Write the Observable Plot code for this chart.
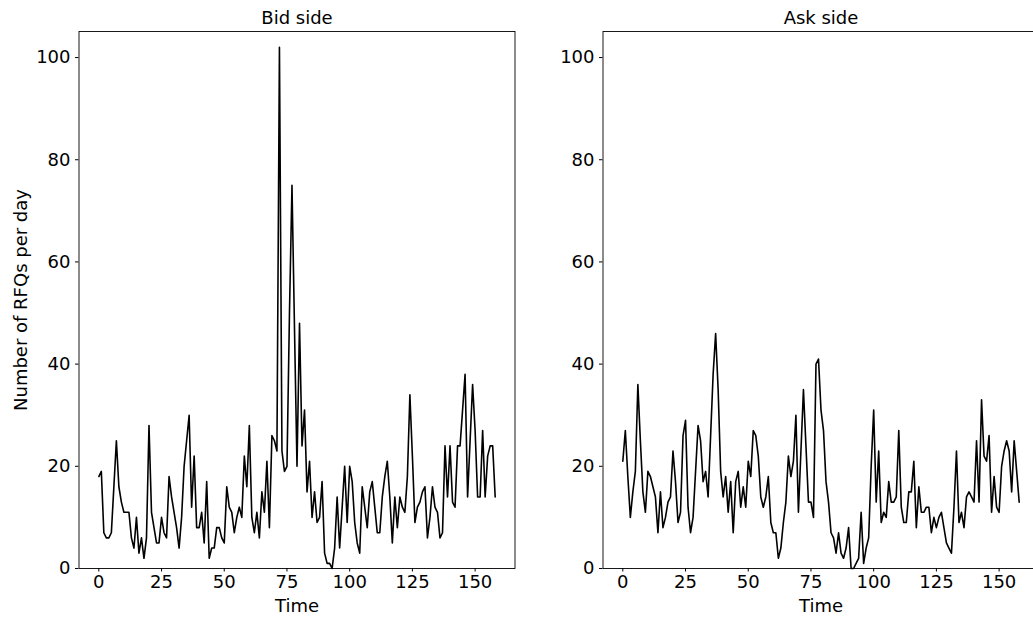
<!DOCTYPE html>
<html>
<head>
<meta charset="utf-8">
<script src="https://cdn.jsdelivr.net/npm/d3@7"></script>
<script src="https://cdn.jsdelivr.net/npm/@observablehq/plot@0.6"></script>
<style>
  html, body { margin: 0; padding: 0; background: #fff; overflow: hidden; }
  #wrap { position: relative; width: 1033px; height: 619px; overflow: hidden; }
  #wrap > div { position: absolute; top: 0; width: 530px; height: 619px; }
  #wrap svg { max-width: none !important; width: 530px; height: 619px; }
</style>
</head>
<body>
<div id="wrap"><div id="left" style="left:0px"></div><div id="right" style="left:523.5px"></div></div>
<script>
// Number of RFQs per day, bid side (time steps 0..158)
const bidCounts = [
  18, 19, 7, 6, 6, 7, 16, 25, 16, 13,
  11, 11, 11, 6, 4, 10, 3, 6, 2, 6,
  28, 11, 8, 5, 5, 10, 7, 6, 18, 14,
  11, 8, 4, 10, 20, 25, 30, 12, 22, 8,
  8, 11, 5, 17, 2, 4, 4, 8, 8, 6,
  5, 16, 12, 11, 7, 10, 12, 10, 22, 16,
  28, 10, 7, 11, 6, 15, 11, 21, 8, 26,
  25, 23, 102, 23, 19, 20, 50, 75, 47, 20,
  48, 24, 31, 15, 21, 10, 15, 9, 10, 17,
  3, 1, 1, 0, 4, 14, 4, 12, 20, 9,
  20, 17, 9, 5, 3, 16, 12, 8, 15, 17,
  12, 7, 7, 14, 18, 21, 14, 5, 14, 8,
  14, 12, 11, 18, 34, 22, 9, 12, 13, 15,
  16, 6, 10, 16, 12, 11, 6, 7, 24, 14,
  24, 13, 12, 24, 24, 31, 38, 14, 25, 36,
  27, 14, 14, 27, 14, 22, 24, 24, 14
];
// Number of RFQs per day, ask side
const askCounts = [
  21, 27, 18, 10, 15, 19, 36, 25, 15, 11,
  19, 18, 16, 14, 7, 15, 8, 10, 13, 14,
  23, 17, 9, 11, 26, 29, 12, 7, 10, 19,
  28, 25, 17, 19, 14, 26, 38, 46, 35, 19,
  14, 18, 11, 17, 7, 17, 19, 12, 16, 12,
  21, 18, 27, 26, 22, 14, 12, 14, 18, 9,
  7, 7, 2, 4, 9, 13, 22, 18, 21, 30,
  11, 23, 35, 24, 13, 13, 10, 40, 41, 31,
  27, 17, 13, 7, 6, 3, 7, 3, 2, 4,
  8, 0, 0, 1, 2, 11, 1, 4, 6, 20,
  31, 13, 23, 9, 11, 10, 17, 13, 13, 14,
  27, 12, 9, 9, 15, 15, 21, 8, 16, 11,
  11, 12, 12, 7, 10, 8, 10, 11, 8, 5,
  4, 3, 12, 23, 9, 11, 8, 14, 15, 14,
  13, 25, 13, 33, 22, 21, 26, 11, 18, 12,
  11, 20, 23, 25, 23, 15, 25, 19, 13
];
const xTicks = [0, 25, 50, 75, 100, 125, 150];
const yTicks = [0, 20, 40, 60, 80, 100];
const titles = ["Bid side", "Ask side"];
const xLabel = "Time";
const yLabel = "Number of RFQs per day";

const font = "'DejaVu Sans', sans-serif";

function panel(values, title, showYLabel) {
  const data = values.map((v, i) => ({t: i, n: v}));
  const n = values.length - 1;
  const pad = n * 0.05;
  const marks = [
    Plot.line(data, {x: "t", y: "n", stroke: "black", strokeWidth: 1.6}),
    Plot.frame({stroke: "black", strokeWidth: 0.9}),
    Plot.axisX({ticks: xTicks, tickSize: 3.5, tickPadding: 3.5, label: null, tickFormat: d => String(d)}),
    Plot.axisY({ticks: yTicks, tickSize: 3.5, tickPadding: 5, label: null, tickFormat: d => String(d)}),
    Plot.text([title], {text: d => d, frameAnchor: "top", dy: -13, lineAnchor: "middle", fontSize: 18, fill: "black"}),
    Plot.text([xLabel], {text: d => d, frameAnchor: "bottom", dy: 38, lineAnchor: "middle", fontSize: 18, fill: "black"})
  ];
  if (showYLabel) {
    marks.push(Plot.text([yLabel], {text: d => d, frameAnchor: "left", dx: -58, rotate: -90, lineAnchor: "middle", textAnchor: "middle", fontSize: 18, fill: "black"}));
  }
  return Plot.plot({
    width: 530,
    height: 619,
    marginLeft: 78.5,
    marginRight: 15.5,
    marginTop: 31,
    marginBottom: 51,
    style: {fontFamily: font, fontSize: "18px", color: "black", background: "white", overflow: "visible"},
    x: {domain: [-pad, n + pad]},
    y: {domain: [0, 105.1]},
    marks
  });
}

document.getElementById("left").appendChild(panel(bidCounts, titles[0], true));
document.getElementById("right").appendChild(panel(askCounts, titles[1], false));
</script>
</body>
</html>
